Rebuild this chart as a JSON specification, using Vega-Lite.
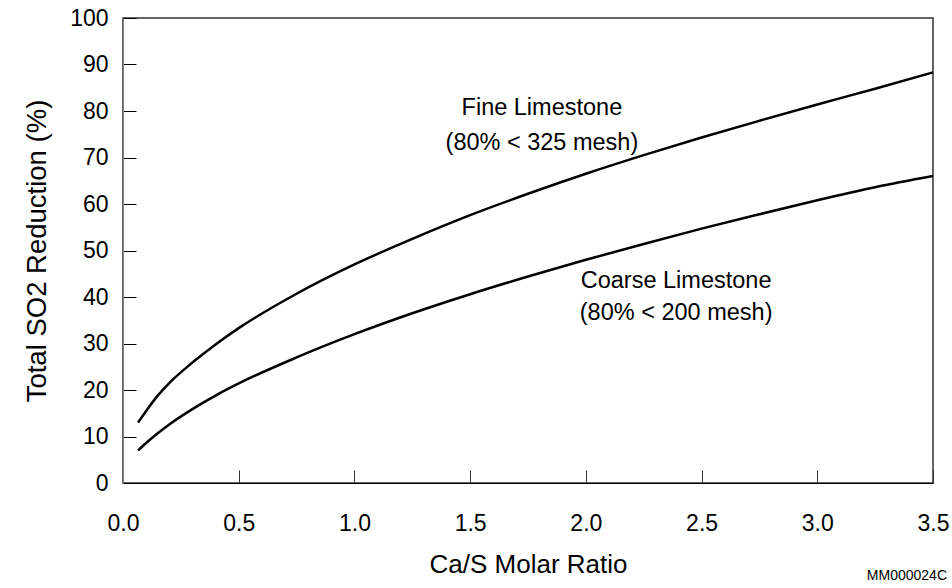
{
  "$schema": "https://vega.github.io/schema/vega-lite/v6.json",
  "width": 810,
  "height": 465,
  "autosize": {"type": "none"},
  "padding": {"left": 123, "top": 18, "right": 19, "bottom": 105},
  "background": "white",
  "config": {
    "font": "Liberation Sans",
    "view": {"stroke": "#333333", "strokeWidth": 1.5},
    "axis": {"grid": false, "labelColor": "black", "titleColor": "black", "titleFontWeight": "normal", "labelFont": "Liberation Sans", "titleFont": "Liberation Sans"}
  },
  "datasets": {
    "curves": [
      {"ratio": 0.065, "reduction": 13.0, "stone": "Fine"},
      {"ratio": 0.1, "reduction": 15.5, "stone": "Fine"},
      {"ratio": 0.15, "reduction": 18.8, "stone": "Fine"},
      {"ratio": 0.2, "reduction": 21.5, "stone": "Fine"},
      {"ratio": 0.3, "reduction": 25.9, "stone": "Fine"},
      {"ratio": 0.4, "reduction": 29.8, "stone": "Fine"},
      {"ratio": 0.5, "reduction": 33.3, "stone": "Fine"},
      {"ratio": 0.75, "reduction": 40.7, "stone": "Fine"},
      {"ratio": 1.0, "reduction": 47.0, "stone": "Fine"},
      {"ratio": 1.25, "reduction": 52.5, "stone": "Fine"},
      {"ratio": 1.5, "reduction": 57.6, "stone": "Fine"},
      {"ratio": 1.75, "reduction": 62.2, "stone": "Fine"},
      {"ratio": 2.0, "reduction": 66.5, "stone": "Fine"},
      {"ratio": 2.25, "reduction": 70.5, "stone": "Fine"},
      {"ratio": 2.5, "reduction": 74.3, "stone": "Fine"},
      {"ratio": 2.75, "reduction": 77.9, "stone": "Fine"},
      {"ratio": 3.0, "reduction": 81.4, "stone": "Fine"},
      {"ratio": 3.25, "reduction": 84.8, "stone": "Fine"},
      {"ratio": 3.5, "reduction": 88.3, "stone": "Fine"},
      {"ratio": 0.065, "reduction": 7.0, "stone": "Coarse"},
      {"ratio": 0.1, "reduction": 8.6, "stone": "Coarse"},
      {"ratio": 0.15, "reduction": 10.7, "stone": "Coarse"},
      {"ratio": 0.2, "reduction": 12.6, "stone": "Coarse"},
      {"ratio": 0.3, "reduction": 15.9, "stone": "Coarse"},
      {"ratio": 0.4, "reduction": 18.8, "stone": "Coarse"},
      {"ratio": 0.5, "reduction": 21.4, "stone": "Coarse"},
      {"ratio": 0.75, "reduction": 27.0, "stone": "Coarse"},
      {"ratio": 1.0, "reduction": 32.0, "stone": "Coarse"},
      {"ratio": 1.25, "reduction": 36.5, "stone": "Coarse"},
      {"ratio": 1.5, "reduction": 40.6, "stone": "Coarse"},
      {"ratio": 1.75, "reduction": 44.4, "stone": "Coarse"},
      {"ratio": 2.0, "reduction": 48.0, "stone": "Coarse"},
      {"ratio": 2.25, "reduction": 51.4, "stone": "Coarse"},
      {"ratio": 2.5, "reduction": 54.7, "stone": "Coarse"},
      {"ratio": 2.75, "reduction": 57.8, "stone": "Coarse"},
      {"ratio": 3.0, "reduction": 60.8, "stone": "Coarse"},
      {"ratio": 3.25, "reduction": 63.6, "stone": "Coarse"},
      {"ratio": 3.5, "reduction": 66.0, "stone": "Coarse"}
    ],
    "labels": [
      {"ratio": 1.81, "reduction": 80.6, "text": "Fine Limestone"},
      {"ratio": 1.81, "reduction": 73.1, "text": "(80% < 325 mesh)"},
      {"ratio": 2.39, "reduction": 43.5, "text": "Coarse Limestone"},
      {"ratio": 2.39, "reduction": 36.5, "text": "(80% < 200 mesh)"}
    ],
    "code": [
      {"ratio": 3.5, "reduction": -20.8, "text": "MM000024C"}
    ]
  },
  "layer": [
    {
      "data": {"name": "curves"},
      "mark": {"type": "line", "color": "black", "strokeWidth": 2.5, "interpolate": "monotone"},
      "encoding": {
        "x": {
          "field": "ratio", "type": "quantitative",
          "scale": {"domain": [0, 3.5], "nice": false},
          "axis": {
            "title": "Ca/S Molar Ratio",
            "values": [0, 0.5, 1, 1.5, 2, 2.5, 3, 3.5],
            "format": ".1f",
            "labelFontSize": 23,
            "titleFontSize": 26,
            "tickSize": -13,
            "tickColor": "#333333",
            "domainColor": "black",
            "labelPadding": 42,
            "titlePadding": 16,
            "labelFlush": false
          }
        },
        "y": {
          "field": "reduction", "type": "quantitative",
          "scale": {"domain": [0, 100], "nice": false},
          "axis": {
            "title": "Total SO2 Reduction (%)",
            "values": [0, 10, 20, 30, 40, 50, 60, 70, 80, 90, 100],
            "labelFontSize": 23,
            "titleFontSize": 27.5,
            "tickSize": -13,
            "tickColor": "black",
            "domainColor": "#808080",
            "labelPadding": 28,
            "titlePadding": 18,
            "labelFlush": false
          }
        },
        "detail": {"field": "stone", "type": "nominal"}
      }
    },
    {
      "data": {"name": "labels"},
      "mark": {"type": "text", "fontSize": 23.5, "font": "Liberation Sans", "color": "black", "align": "center", "baseline": "middle"},
      "encoding": {
        "x": {"field": "ratio", "type": "quantitative"},
        "y": {"field": "reduction", "type": "quantitative"},
        "text": {"field": "text", "type": "nominal"}
      }
    },
    {
      "data": {"name": "code"},
      "mark": {"type": "text", "fontSize": 14, "font": "Liberation Sans", "color": "black", "align": "right", "baseline": "alphabetic", "dx": 14, "clip": false},
      "encoding": {
        "x": {"field": "ratio", "type": "quantitative"},
        "y": {"field": "reduction", "type": "quantitative"},
        "text": {"field": "text", "type": "nominal"}
      }
    }
  ]
}
